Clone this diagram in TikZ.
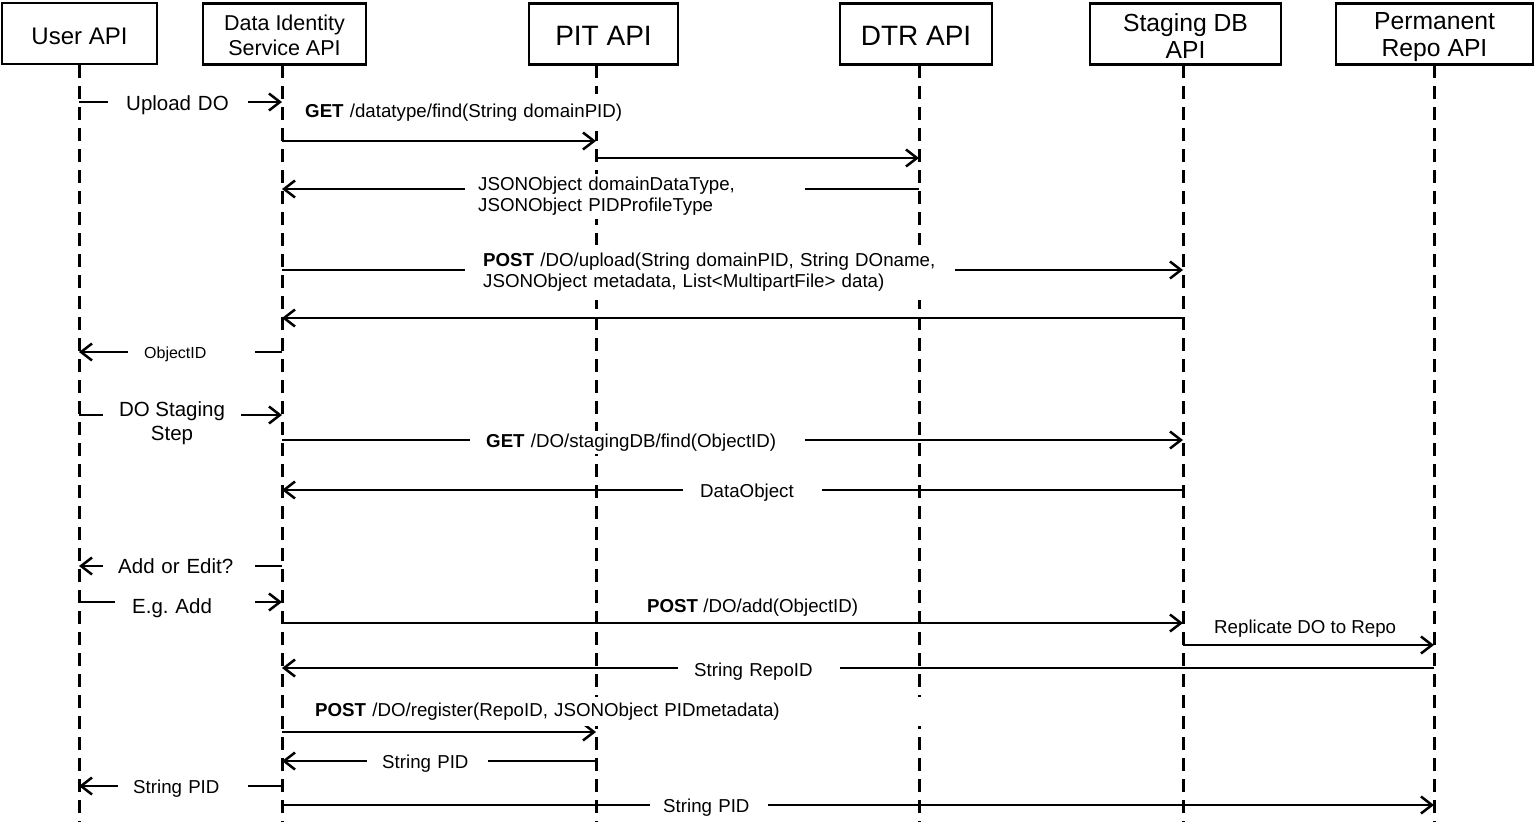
\documentclass[tikz,border=0pt]{standalone}
\usepackage{fontspec}
\setmainfont{Liberation Sans}
\usetikzlibrary{arrows.meta}
\frenchspacing
\begin{document}
\begin{tikzpicture}[x=1pt,y=-1pt,
  hdr/.style={draw, line width=2.5pt, minimum height=61pt, inner sep=0pt},
  hdrtxt/.style={align=center, inner sep=0pt},
  life/.style={line width=3pt, dash pattern=on 13pt off 8pt},
  msg/.style={line width=1.5pt, -{Straight Barb[length=11pt,width=17pt,line width=2.5pt]}},
  lab/.style={fill=white, inner xsep=0pt, inner ysep=3pt, yshift=-2.5pt, align=left, anchor=west, font=\fontsize{18.7}{21}\selectfont},
  labbig/.style={lab, font=\fontsize{20.5}{24}\selectfont},
  labsmall/.style={lab, font=\fontsize{16}{19}\selectfont},
]
\useasboundingbox (0,0) rectangle (1538,833);
% headers
\node[hdr, minimum width=155pt] (user) at (79.5,33.5) {};
\node[hdr, minimum width=163pt] (dis) at (284.5,34) {};
\node[hdr, minimum width=149pt] (pit) at (603.5,34) {};
\node[hdr, minimum width=152pt] (dtr) at (916,34) {};
\node[hdr, minimum width=191pt] (stg) at (1185.5,34) {};
\node[hdr, minimum width=197pt] (perm) at (1434.5,34) {};
\node[hdrtxt, font=\fontsize{24}{28}\selectfont] (usert) at ([yshift=-2.5pt]user.center) {User API};
\node[hdrtxt, font=\fontsize{21.5}{25}\selectfont] (dist) at ([yshift=-1pt]dis.center) {Data Identity\\Service API};
\node[hdrtxt, font=\fontsize{28}{32}\selectfont] (pitt) at ([yshift=-2pt]pit.center) {PIT API};
\node[hdrtxt, font=\fontsize{28}{32}\selectfont] (dtrt) at ([yshift=-2pt]dtr.center) {DTR API};
\node[hdrtxt, font=\fontsize{24.7}{27}\selectfont] (stgt) at ([yshift=-2pt]stg.center) {Staging DB\\API};
\node[hdrtxt, font=\fontsize{24.7}{27}\selectfont] (permt) at ([yshift=-3.5pt]perm.center) {Permanent\\Repo API};
% lifelines
\coordinate (Luser) at (79,65);
\coordinate (Ldis) at (282,65);
\coordinate (Lpit) at (596,65);
\coordinate (Ldtr) at (919,65);
\coordinate (Lstg) at (1183,65);
\coordinate (Lperm) at (1434,65);
\foreach \L in {Luser,Ldis,Lpit,Ldtr,Lstg,Lperm}
  \draw[life] (\L) -- (\L |- 0,822);
% messages
\draw[msg] (Luser |- 0,102) -- (Ldis |- 0,102);
\node[labbig, text width=140pt] at (108,103) {\hspace*{18pt}Upload DO};

\draw[msg] (Ldis |- 0,141) -- (Lpit |- 0,141);
\node[lab, text width=325pt, inner ysep=10pt] at (300,110) {\hspace*{5pt}\textbf{GET} /datatype/find(String domainPID)};

\draw[msg] (Lpit |- 0,158) -- (Ldtr |- 0,158);

\draw[msg] (Ldtr |- 0,189) -- (Ldis |- 0,189);
\node[lab, text width=340pt] at (465,194) {\hspace*{13pt}JSONObject domainDataType,\\\hspace*{13pt}JSONObject PIDProfileType};

\draw[msg] (Ldis |- 0,270) -- (Lstg |- 0,270);
\node[lab, text width=490pt, inner ysep=8pt] at (465,270) {\hspace*{18pt}\textbf{POST} /DO/upload(String domainPID, String DOname,\\\hspace*{18pt}JSONObject metadata, List<MultipartFile> data)};

\draw[msg] (Lstg |- 0,318) -- (Ldis |- 0,318);

\draw[msg] (Ldis |- 0,352) -- (Luser |- 0,352);
\node[labsmall, text width=127pt] at (128,352) {\hspace*{16pt}ObjectID};

\draw[msg] (Luser |- 0,415) -- (Ldis |- 0,415);
\node[labbig, anchor=center, align=center, inner xsep=16pt] at (172,421) {DO Staging\\Step};

\draw[msg] (Ldis |- 0,440) -- (Lstg |- 0,440);
\node[lab, text width=335pt] at (470,440) {\hspace*{16pt}\textbf{GET} /DO/stagingDB/find(ObjectID)};

\draw[msg] (Lstg |- 0,490) -- (Ldis |- 0,490);
\node[lab, text width=139pt] at (683,490) {\hspace*{17pt}DataObject};

\draw[msg] (Ldis |- 0,566) -- (Luser |- 0,566);
\node[labbig, text width=152pt] at (103,564) {\hspace*{15pt}Add or Edit?};

\draw[msg] (Luser |- 0,602) -- (Ldis |- 0,602);
\node[labbig, text width=140pt] at (115,606) {\hspace*{17pt}E.g. Add};

\draw[msg] (Ldis |- 0,623) -- (Lstg |- 0,623);
\node[lab] at (647,605) {\textbf{POST} /DO/add(ObjectID)};

\draw[msg] (Lstg |- 0,645) -- (Lperm |- 0,645);
\node[lab] at (1214,626) {Replicate DO to Repo};

\draw[msg] (Lperm |- 0,668) -- (Ldis |- 0,668);
\node[lab, text width=162pt] at (678,669) {\hspace*{16pt}String RepoID};

\draw[msg] (Ldis |- 0,732) -- (Lpit |- 0,732);
\node[lab, text width=630pt, inner ysep=6pt] at (300,709) {\hspace*{15pt}\textbf{POST} /DO/register(RepoID, JSONObject PIDmetadata)};

\draw[msg] (Lpit |- 0,761) -- (Ldis |- 0,761);
\node[lab, text width=121pt] at (367,761) {\hspace*{15pt}String PID};

\draw[msg] (Ldis |- 0,786) -- (Luser |- 0,786);
\node[lab, text width=130pt] at (118,786) {\hspace*{15pt}String PID};

\draw[msg] (Ldis |- 0,805) -- (Lperm |- 0,805);
\node[lab, text width=118pt] at (650,805) {\hspace*{13pt}String PID};
\end{tikzpicture}
\end{document}
